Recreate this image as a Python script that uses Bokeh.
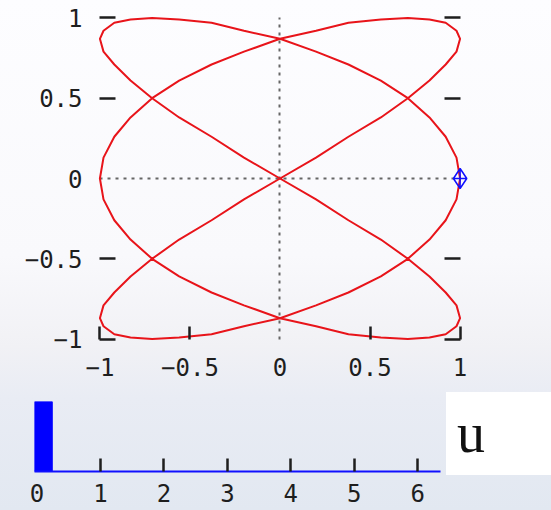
from bokeh.embed import file_html
from bokeh.layouts import column, row
from bokeh.models import Div, FixedTicker, LinearAxis, Range1d
from bokeh.plotting import figure
from bokeh.resources import INLINE

# Parametric curve samples (x, y) over one full turn of u
CURVE_X = [
    1.00, 0.98, 0.92, 0.83, 0.71, 0.56, 0.38, 0.20, 0.00, -0.20, -0.38, -0.56, -0.71, -0.83, -0.92, -0.98,
    -1.00, -0.98, -0.92, -0.83, -0.71, -0.56, -0.38, -0.20, 0.00, 0.20, 0.38, 0.56, 0.71, 0.83, 0.92, 0.98,
    1.00, 0.98, 0.92, 0.83, 0.71, 0.56, 0.38, 0.20, 0.00, -0.20, -0.38, -0.56, -0.71, -0.83, -0.92, -0.98,
    -1.00, -0.98, -0.92, -0.83, -0.71, -0.56, -0.38, -0.20, 0.00, 0.20, 0.38, 0.56, 0.71, 0.83, 0.92, 0.98,
    1.00, 0.98, 0.92, 0.83, 0.71, 0.56, 0.38, 0.20, 0.00, -0.20, -0.38, -0.56, -0.71, -0.83, -0.92, -0.98,
    -1.00, -0.98, -0.92, -0.83, -0.71, -0.56, -0.38, -0.20, 0.00, 0.20, 0.38, 0.56, 0.71, 0.83, 0.92, 0.98,
    1.00,
]
CURVE_Y = [
    0.00, 0.13, 0.26, 0.38, 0.50, 0.61, 0.71, 0.79, 0.87, 0.92, 0.97, 0.99,
    1.00, 0.99, 0.97, 0.92, 0.87, 0.79, 0.71, 0.61, 0.50, 0.38, 0.26, 0.13,
    0.00, -0.13, -0.26, -0.38, -0.50, -0.61, -0.71, -0.79, -0.87, -0.92, -0.97, -0.99,
    -1.00, -0.99, -0.97, -0.92, -0.87, -0.79, -0.71, -0.61, -0.50, -0.38, -0.26, -0.13,
    0.00, 0.13, 0.26, 0.38, 0.50, 0.61, 0.71, 0.79, 0.87, 0.92, 0.97, 0.99,
    1.00, 0.99, 0.97, 0.92, 0.87, 0.79, 0.71, 0.61, 0.50, 0.38, 0.26, 0.13,
    0.00, -0.13, -0.26, -0.38, -0.50, -0.61, -0.71, -0.79, -0.87, -0.92, -0.97, -0.99,
    -1.00, -0.99, -0.97, -0.92, -0.87, -0.79, -0.71, -0.61, -0.50, -0.38, -0.26, -0.13,
    0.00,
]

# Current slider value and the index of the matching curve sample
U_VALUE = 0.0
U_INDEX = 0
U_NAME = "u"

# Tick values and labels
PLOT_TICKS = [-1, -0.5, 0, 0.5, 1]
PLOT_TICKS_DRAWN = [-1, -0.5, 0.5, 1]
PLOT_LABELS = {-1: "\u22121", -0.5: "\u22120.5", 0: "0", 0.5: "0.5", 1: "1"}
U_TICKS = [0, 1, 2, 3, 4, 5, 6]
U_TICKS_DRAWN = [1, 2, 3, 4, 5, 6]

MONO = "DejaVu Sans Mono"
INK = "#1e1e1e"
RED = "#e8141a"
BLUE = "#1010ff"


def label_axis(ticks, standoff):
    """Axis at the frame edge that only carries tick labels."""
    return LinearAxis(
        ticker=FixedTicker(ticks=ticks),
        axis_line_color=None,
        major_tick_line_color=None,
        minor_tick_line_color=None,
        major_tick_in=0,
        major_tick_out=0,
        minor_tick_in=0,
        minor_tick_out=0,
        major_label_standoff=standoff,
        major_label_text_font=MONO,
        major_label_text_font_size="24px",
        major_label_text_color=INK,
    )


def tick_axis(drawn, loc, tick_len):
    """Axis pinned at a data location that only draws inward tick marks."""
    return LinearAxis(
        fixed_location=loc,
        ticker=FixedTicker(ticks=[], minor_ticks=drawn),
        axis_line_color=None,
        major_tick_line_color=None,
        major_tick_in=0,
        major_tick_out=0,
        minor_tick_in=tick_len,
        minor_tick_out=0,
        minor_tick_line_color=INK,
        minor_tick_line_width=2.5,
        major_label_text_font_size="0px",
        major_label_text_color=None,
    )


def zero_line(bounds):
    return LinearAxis(
        fixed_location=0,
        bounds=bounds,
        ticker=FixedTicker(ticks=[]),
        axis_line_color="#666666",
        axis_line_width=2,
        axis_line_dash="3 5",
        major_tick_line_color=None,
        minor_tick_line_color=None,
        major_label_text_font_size="0px",
        major_label_text_color=None,
        level="underlay",
    )


# Main parametric plot
top = figure(
    width=551, height=386,
    x_range=Range1d(-1.03, 1.08), y_range=Range1d(-1.04, 1.04),
    x_axis_location=None, y_axis_location=None,
    min_border_left=94, min_border_right=77, min_border_top=11, min_border_bottom=41,
    background_fill_color=None, border_fill_color=None, outline_line_color=None,
    output_backend="svg", toolbar_location=None,
)
top.grid.visible = False

left_labels = label_axis(PLOT_TICKS, 12)
left_labels.major_label_overrides = PLOT_LABELS
top.add_layout(left_labels, "left")
top.add_layout(tick_axis(PLOT_TICKS_DRAWN, -1, 16), "left")
top.add_layout(tick_axis(PLOT_TICKS_DRAWN, 1, 16), "right")

bottom_labels = label_axis(PLOT_TICKS, 12)
bottom_labels.major_label_overrides = PLOT_LABELS
top.add_layout(bottom_labels, "below")
top.add_layout(tick_axis(PLOT_TICKS_DRAWN, -1, 13), "below")

top.add_layout(zero_line((-1, 1)), "left")
top.add_layout(zero_line((-1, 1)), "below")

top.line(CURVE_X, CURVE_Y, line_color=RED, line_width=2)
top.scatter([CURVE_X[U_INDEX]], [CURVE_Y[U_INDEX]], marker="diamond_cross", size=20,
            fill_color=None, line_color=BLUE, line_width=1.5)

# Slider strip for u
slider = figure(
    width=446, height=124,
    x_range=Range1d(-0.04, 6.36), y_range=Range1d(0, 1),
    x_axis_location=None, y_axis_location=None,
    min_border_left=34, min_border_right=6, min_border_top=15, min_border_bottom=39,
    background_fill_color=None, border_fill_color=None, outline_line_color=None,
    output_backend="svg", toolbar_location=None,
)
slider.grid.visible = False
slider.quad(left=[U_VALUE - 0.04], right=[U_VALUE + 0.24], bottom=[0], top=[1],
            fill_color="#0000ff", line_color="#0000ff")

u_axis = LinearAxis(
    ticker=FixedTicker(ticks=U_TICKS, minor_ticks=U_TICKS_DRAWN),
    axis_line_color=BLUE,
    axis_line_width=2,
    major_tick_line_color=None,
    major_tick_in=0,
    major_tick_out=0,
    minor_tick_in=13,
    minor_tick_out=0,
    minor_tick_line_color=INK,
    minor_tick_line_width=2.5,
    major_label_standoff=12,
    major_label_text_font=MONO,
    major_label_text_font_size="24px",
    major_label_text_color=INK,
)
slider.add_layout(u_axis, "below")

# Variable name box
ubox = Div(
    text=U_NAME, width=105, height=83, margin=(6, 0, 0, 0),
    styles={
        "background-color": "white",
        "font-family": "'Liberation Serif', serif",
        "font-size": "56px",
        "line-height": "83px",
        "text-indent": "11px",
        "color": "#111111",
    },
)

layout = column(
    top, row(slider, ubox, spacing=0), spacing=0,
    styles={"background": "linear-gradient(to bottom, #fdfdff 0%, #f9f9fc 50%, "
                          "#f1f1f5 68%, #e9ecf4 78%, #e2e8f1 100%)"},
)

open("out.html", "w").write(file_html(layout, INLINE))
